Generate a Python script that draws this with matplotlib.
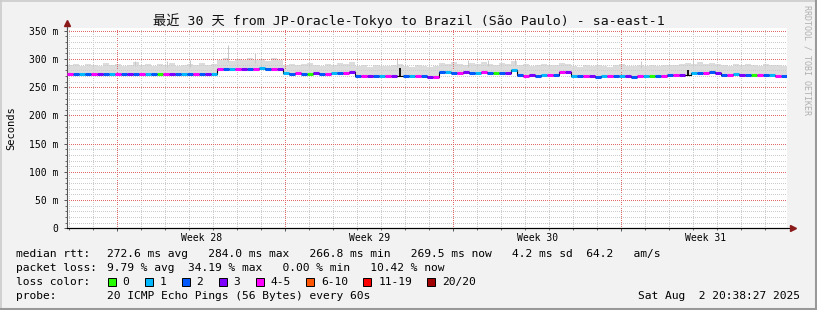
import matplotlib
matplotlib.use('Agg')
import matplotlib.pyplot as plt
from matplotlib.patches import Rectangle
from matplotlib.lines import Line2D
import numpy as np

W, H = 817, 310

# median rtt (ms) in 6-hour bins over the last 30 days
median = [273.5, 273.0, 273.8, 273.2, 272.8, 273.5, 274.0, 273.1, 273.4, 272.9,
          273.6, 273.9, 273.2, 273.0, 273.5, 274.1, 273.3, 272.8, 273.4, 273.7,
          273.0, 272.7, 273.2, 273.5, 273.0,
          282.6, 283.0, 282.4, 282.8, 283.2, 282.7, 282.9, 283.4, 282.6, 282.8, 282.5,
          274.8, 274.2, 274.6, 273.9, 274.3, 274.8, 274.1, 273.8, 274.5, 276.0, 274.7, 277.5,
          270.3, 270.0, 269.8, 270.4, 269.6, 270.2, 269.9, 283.5,
          270.2, 269.8, 270.6, 270.0,
          268.8, 268.2,
          277.5, 276.8, 276.0, 275.6, 276.2, 275.4, 275.8, 276.3, 275.2, 275.9, 275.5, 276.0, 280.5,
          271.0, 270.6, 271.2, 270.8, 271.4, 270.9, 271.2,
          277.5, 277.0,
          269.5, 269.2, 269.8, 269.4, 269.0, 269.6, 269.3, 269.8, 269.2, 269.5,
          269.0, 269.7, 269.4, 269.6, 270.0, 270.4,
          272.0, 272.4, 271.8,
          280.0,
          275.0, 275.8, 275.4, 276.2, 275.5,
          272.5, 272.0, 272.8, 271.8, 272.3, 271.6, 272.1, 271.4, 271.0, 270.6, 270.2]

# lost pings per bin as loss-colour index (-1 = no colour, black tick only)
loss_cat = [4, 2, 1, 2, 4, 3, 2, 1, 4, 2, 3, 2, 4, 1, 2, 0, 4, 3, 2, 1, 2, 4, 2, 3, 1,
            4, 2, 1, 4, 3, 2, 4, 1, 2, 4, 3,
            1, 2, 4, 2, 0, 3, 2, 4, 1, 2, 4, 3,
            2, 4, 3, 2, 1, 4, 3, -1,
            2, 1, 4, 2,
            3, 4,
            2, 1, 2, 4, 3, 2, 1, 4, 2, 0, 2, 3, 1,
            2, 4, 3, 2, 1, 4, 2,
            4, 3,
            1, 2, 4, 3, 2, 1, 4, 2, 1, 3, 2, 4, 1, 0, 2, 4,
            2, 4, 3,
            -1,
            1, 2, 4, 2, 3,
            2, 4, 1, 3, 2, 0, 4, 2, 1, 4, 2]

# smoke (spread of the 20 pings)
smoke_hi = [289, 291, 288, 292, 290, 287, 293, 289, 291, 288, 290, 294, 289, 291, 288,
            292, 290, 293, 288, 290, 291, 289, 293, 290, 292,
            298, 301, 297, 300, 299, 302, 298, 300, 297, 301, 299,
            290, 292, 289, 291, 293, 290, 288, 292, 290, 293, 291, 294,
            287, 289, 286, 290, 288, 287, 289, 291,
            288, 286, 289, 287,
            286, 288,
            293, 291, 294, 292, 290, 293, 291, 295, 292, 290, 293, 291, 296,
            289, 291, 288, 290, 292, 289, 290,
            293, 292,
            288, 286, 289, 287, 290, 288, 286, 289, 291, 287, 288, 290, 287, 289, 288, 290,
            290, 289, 291,
            293,
            292, 294, 291, 293, 292,
            290, 288, 291, 289, 292, 290, 288, 291, 289, 290, 288]
smoke_lo = [271.0, 270.6, 271.3, 270.8, 270.4, 271.0, 271.5, 270.7, 271.0, 270.5,
            271.2, 271.4, 270.8, 270.6, 271.0, 271.6, 270.9, 270.4, 271.0, 271.2,
            270.6, 270.3, 270.8, 271.0, 270.6,
            280.2, 280.6, 280.0, 280.4, 280.8, 280.3, 280.5, 281.0, 280.2, 280.4, 280.1,
            272.3, 271.8, 272.1, 271.5, 271.9, 272.4, 271.7, 271.4, 272.0, 273.5, 272.2, 274.0,
            267.9, 267.6, 267.4, 268.0, 267.2, 267.8, 267.5, 268.1,
            267.8, 267.4, 268.2, 267.6,
            266.4, 265.8,
            275.0, 274.4, 273.6, 273.2, 273.8, 273.0, 273.4, 273.9, 272.8, 273.5, 273.1, 273.6, 278.0,
            268.6, 268.2, 268.8, 268.4, 269.0, 268.5, 268.8,
            275.1, 274.6,
            267.1, 266.8, 267.4, 267.0, 266.6, 267.2, 266.9, 267.4, 266.8, 267.1,
            266.6, 267.3, 267.0, 267.2, 267.6, 268.0,
            269.6, 270.0, 269.4,
            272.0,
            272.6, 273.4, 273.0, 273.8, 273.1,
            270.1, 269.6, 270.4, 269.4, 269.9, 269.2, 269.7, 269.0, 268.6, 268.2, 267.8]

# isolated tall pings (day since left edge, ms)
spike_days = [2.83, 4.17, 5.13, 6.71, 7.83, 13.75, 16.71, 17.54, 18.67, 23.9, 26.08]
spike_top = [296, 297, 298, 325, 311, 301, 298, 299, 300, 297, 301]

loss_colors = ['#26ff00', '#00b8ff', '#0059ff', '#7e00ff', '#ff00ff', '#ff5500', '#ff0000', '#a10000']
loss_labels = ['0', '1', '2', '3', '4-5', '6-10', '11-19', '20/20']
week_labels = ['Week 28', 'Week 29', 'Week 30', 'Week 31']
week_start = 2.1  # first Sunday 00:00, days from left edge
ytick_vals = [0, 50, 100, 150, 200, 250, 300, 350]
ytick_labels = ['0', '50 m', '100 m', '150 m', '200 m', '250 m', '300 m', '350 m']

title = '最近 30 天 from JP-Oracle-Tokyo to Brazil (São Paulo) - sa-east-1'
rtt_line = '272.6 ms avg   284.0 ms max   266.8 ms min   269.5 ms now   4.2 ms sd  64.2   am/s'
loss_line = '9.79 % avg  34.19 % max   0.00 % min   10.42 % now'
probe_line = '20 ICMP Echo Pings (56 Bytes) every 60s'
stamp = 'Sat Aug  2 20:38:27 2025'

plt.rcParams['font.family'] = ['DejaVu Sans Mono', 'Noto Sans CJK SC']

fig = plt.figure(figsize=(W / 100, H / 100), dpi=100, facecolor='#f2f2f2')


def fx(px):
    return px / W


def fy(py):
    return 1 - py / H


x0, x1, ytop, ybot = 67, 787, 28, 228.3
ax = fig.add_axes([fx(x0), fy(ybot), fx(x1) - fx(x0), fy(ytop) - fy(ybot)])
ax.set_facecolor('white')
ax.set_xlim(0, 30)
ax.set_ylim(0, 355)

x = np.arange(len(median)) * 0.25 + 0.125
med = np.array(median)
cat = np.array(loss_cat)
lo = np.array(smoke_lo)
hi = np.array(smoke_hi)

# smoke
ax.bar(x, hi - lo, bottom=lo, width=0.25, color='#dcdcdc', linewidth=0, zorder=1)
ax.vlines(spike_days, np.interp(spike_days, x, hi) - 5, spike_top, color='#c8c8c8', lw=0.7, zorder=1)

# grid (dotted, drawn over the smoke)
minor_grid = dict(color='#cccccc', lw=0.72, ls=(0, (1, 1.4)), zorder=2, antialiased=False)
major_grid = dict(color='#e06a6a', lw=0.72, ls=(0, (1, 1.4)), zorder=2, antialiased=False)
day_lines = np.arange(week_start % 1, 30, 1.0)
week_lines = np.arange(week_start, 30, 7.0)
for d in day_lines:
    if np.min(np.abs(week_lines - d)) > 0.01:
        ax.axvline(d, **minor_grid)
for d in week_lines:
    ax.axvline(d, **major_grid)
for v in range(10, 355, 10):
    if v % 50:
        ax.axhline(v, **minor_grid)
for v in ytick_vals[1:]:
    ax.axhline(v, **major_grid)

# median line: black under, loss colours on top
med_line = med.copy()
for i in np.where(cat < 0)[0]:
    med_line[i] = med[i - 1]
    ax.vlines(x[i], med[i - 1], med[i], color='black', lw=1.3, zorder=3)
ax.step(x, med_line, where='mid', color='black', lw=0.8, zorder=3)
for c, col in enumerate(loss_colors):
    idx = np.where(cat == c)[0]
    if len(idx):
        ax.hlines(med[idx], x[idx] - 0.125, x[idx] + 0.125, colors=col, lw=2.2, zorder=4)

# axes
for s in ['top', 'right']:
    ax.spines[s].set_visible(False)
ax.spines['left'].set_color('#555555')
ax.spines['bottom'].set_color('black')
ax.spines['left'].set_linewidth(0.8)
ax.spines['bottom'].set_linewidth(0.8)
ax.add_line(Line2D([0, 1.006], [0, 0], transform=ax.transAxes, color='black', lw=0.8, clip_on=False))
ax.add_line(Line2D([0, 0], [1, 1.02], transform=ax.transAxes, color='#555555', lw=0.8, clip_on=False))
ax.plot([0], [1.025], marker='^', ms=4.5, color='#8b1a1a', transform=ax.transAxes, clip_on=False)
ax.plot([1.008], [0], marker='>', ms=4.5, color='#8b1a1a', transform=ax.transAxes, clip_on=False)

ax.set_yticks(ytick_vals, ytick_labels)
ax.set_yticks(range(0, 355, 10), minor=True)
ax.set_xticks(week_lines, [''] * len(week_lines))
ax.set_xticks(day_lines, minor=True)
ax.tick_params(which='major', direction='out', length=2.5, width=0.7, color='#555555',
               labelsize=7.0, pad=3.5)
ax.tick_params(which='minor', direction='out', length=1.4, width=0.6, color='#555555')
for k, lab in enumerate(week_labels):
    ax.text(week_start + 3.5 + 7 * k, -0.047, lab, transform=ax.get_xaxis_transform(),
            ha='center', va='center', fontsize=7.0)

# texts
fig.text(0.5, fy(21), title, ha='center', va='center', fontsize=9.5, color='#111111')
fig.text(fx(11), fy(128), 'Seconds', rotation=90, ha='center', va='center', fontsize=7.5)
fig.text(fx(807), fy(5), 'RRDTOOL / TOBI OETIKER', rotation=270, ha='center', va='top',
         fontsize=6.0, color='#b0b0b0')

fs = 8.07
cw = 6.75
fig.text(fx(16), fy(254), 'median rtt:', va='center', fontsize=fs)
fig.text(fx(107), fy(254), rtt_line, va='center', fontsize=fs)
fig.text(fx(16), fy(268), 'packet loss:', va='center', fontsize=fs)
fig.text(fx(107), fy(268), loss_line, va='center', fontsize=fs)
fig.text(fx(16), fy(282), 'loss color:', va='center', fontsize=fs)
px = 108
for col, lab in zip(loss_colors, loss_labels):
    fig.add_artist(Rectangle((fx(px), fy(286)), fx(8), 8 / H, transform=fig.transFigure,
                             facecolor=col, edgecolor='black', lw=0.7))
    fig.text(fx(px + 14.7), fy(282), lab, va='center', fontsize=fs)
    px += 30.2 + cw * len(lab)
fig.text(fx(16), fy(296), 'probe:', va='center', fontsize=fs)
fig.text(fx(107), fy(296), probe_line, va='center', fontsize=fs)
fig.text(fx(800), fy(296), stamp, ha='right', va='center', fontsize=fs)

# frame
fig.add_artist(Line2D([0, 1], [fy(0.5), fy(0.5)], transform=fig.transFigure, color='#cbcbcb', lw=1.2))
fig.add_artist(Line2D([fx(0.5), fx(0.5)], [0, 1], transform=fig.transFigure, color='#cbcbcb', lw=1.2))
fig.add_artist(Line2D([0, 1], [fy(309), fy(309)], transform=fig.transFigure, color='#999999', lw=1.5))
fig.add_artist(Line2D([fx(816), fx(816)], [0, 1], transform=fig.transFigure, color='#999999', lw=1.5))

fig.savefig('out.png', dpi=100, facecolor=fig.get_facecolor())
